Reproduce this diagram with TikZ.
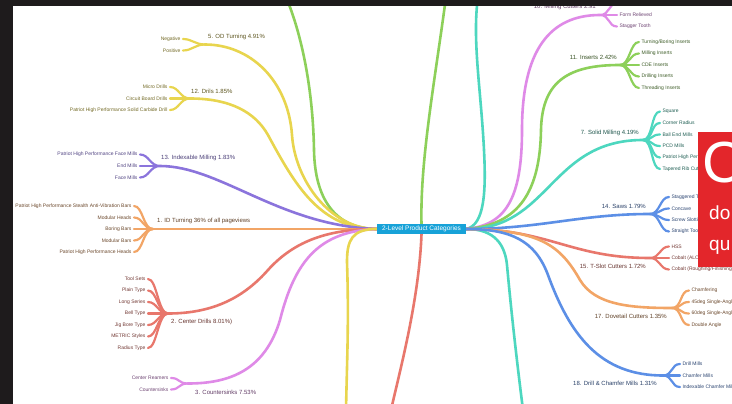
\documentclass[tikz,border=0pt]{standalone}
\usepackage{fontspec}
\setmainfont{Liberation Sans}
\usetikzlibrary{backgrounds}

\definecolor{cyel}{HTML}{E8D54E}
\definecolor{cgrn}{HTML}{8DD05A}
\definecolor{cteal}{HTML}{4DD7BF}
\definecolor{cpur}{HTML}{8B74DC}
\definecolor{corg}{HTML}{F2A566}
\definecolor{cred}{HTML}{E8776C}
\definecolor{cpink}{HTML}{DF8AE7}
\definecolor{cblue}{HTML}{5C8FE6}
\definecolor{chub}{HTML}{17A2D8}
\definecolor{cframe}{HTML}{1E1B1C}
\definecolor{cbox}{HTML}{E3262B}

\tikzset{
  branch/.style={line width=2.6pt, line cap=round},
  twig/.style={line width=2.2pt, line cap=round},
  leaf/.style={font=\fontsize{5}{6}\selectfont, inner sep=2.5pt, outer sep=0pt},
  cat/.style={font=\fontsize{6}{7}\selectfont, inner sep=0pt},
  hub/.style={fill=chub, text=white, font=\fontsize{6.5}{7}\selectfont,
    minimum width=89pt, minimum height=10pt, inner sep=0pt},
}

\begin{document}
\begin{tikzpicture}[x=1pt,y=-1pt]
\useasboundingbox (0,0) rectangle (732,404);

\node[hub] (root) at (421.5,229) {2-Level Product Categories};

% left side
\coordinate (od) at (205,44.5);
\node[cat, anchor=west, text=cyel!40!black] (odl) at (208,37) {5. OD Turning 4.91\%};
\foreach \t [count=\i] in {Negative,Positive}
  \node[leaf, anchor=east, text=cyel!50!black] (od\i) at (183,{39+11.5*(\i-1)}) {\t};

\coordinate (dr) at (190,98.5);
\node[cat, anchor=west, text=cyel!40!black] (drl) at (191,91) {12. Drils 1.85\%};
\foreach \t [count=\i] in {Micro Drills,Circuit Board Drills,Patriot High Performance Solid Carbide Drill}
  \node[leaf, anchor=east, text=cyel!50!black] (dr\i) at (170,{87+11.5*(\i-1)}) {\t};

\coordinate (im) at (160,166);
\node[cat, anchor=west, text=cpur!55!black] (iml) at (161,158) {13. Indexable Milling 1.83\%};
\foreach \t [count=\i] in {Patriot High Performance Face Mills,End Mills,Face Mills}
  \node[leaf, anchor=east, text=cpur!60!black] (im\i) at (140,{154.5+11.5*(\i-1)}) {\t};

\coordinate (id) at (153,229);
\node[cat, anchor=west, text=corg!40!black] (idl) at (157,221) {1. ID Turning 36\% of all pageviews};
\foreach \t [count=\i] in {Patriot High Performance Stealth Anti-Vibration Bars,Modular Heads,Boring Bars,Modular Bars,Patriot High Performance Heads}
  \node[leaf, anchor=east, text=corg!45!black] (id\i) at (134,{206+11.5*(\i-1)}) {\t};

\coordinate (cd) at (168,313.5);
\node[cat, anchor=west, text=cred!45!black] (cdl) at (171,322) {2. Center Drills 8.01\%)};
\foreach \t [count=\i] in {Tool Sets,Plain Type,Long Series,Bell Type,Jig Bore Type,METRIC Styles,Radius Type}
  \node[leaf, anchor=east, text=cred!50!black] (cd\i) at (148,{279+11.5*(\i-1)}) {\t};

\coordinate (cs) at (188,383.5);
\node[cat, anchor=west, text=cpink!45!black] (csl) at (195,392) {3. Countersinks 7.53\%};
\foreach \t [count=\i] in {Center Reamers,Countersinks}
  \node[leaf, anchor=east, text=cpink!50!black] (cs\i) at (171,{378+11.5*(\i-1)}) {\t};

% right side
\coordinate (mc) at (600,15);
\coordinate (mc0) at (617,3.5);
\node[cat, anchor=east, text=cpink!45!black] (mcl) at (596,7) {10. Milling Cutters 2.91};
\foreach \t [count=\i] in {Form Relieved,Stagger Tooth}
  \node[leaf, anchor=west, text=cpink!50!black] (mc\i) at (617,{15+11.5*(\i-1)}) {\t};

\coordinate (in) at (620,65);
\node[cat, anchor=east, text=cgrn!40!black] (inl) at (617,57) {11. Inserts 2.42\%};
\foreach \t [count=\i] in {{Turning/Boring Inserts},Milling Inserts,CDE Inserts,Drilling Inserts,Threading Inserts}
  \node[leaf, anchor=west, text=cgrn!45!black] (in\i) at (639,{42+11.5*(\i-1)}) {\t};

\coordinate (sm) at (643,140);
\node[cat, anchor=east, text=cteal!40!black] (sml) at (639,133) {7. Solid Milling 4.19\%};
\foreach \t [count=\i] in {Square,Corner Radius,Ball End Mills,PCD Mills,Patriot High Performance,Tapered Rib Cutters}
  \node[leaf, anchor=west, text=cteal!45!black] (sm\i) at (660,{111.5+11.5*(\i-1)}) {\t};

\coordinate (sw) at (650,214);
\node[cat, anchor=east, text=cblue!45!black] (swl) at (646,206) {14. Saws 1.79\%};
\foreach \t [count=\i] in {Staggered Tooth,Concave,Screw Slotting,Straight Tooth}
  \node[leaf, anchor=west, text=cblue!50!black] (sw\i) at (669,{197+11.5*(\i-1)}) {\t};

\coordinate (ts) at (650,258);
\node[cat, anchor=east, text=cred!45!black] (tsl) at (646,266) {15. T-Slot Cutters 1.72\%};
\foreach \t [count=\i] in {HSS,Cobalt (ALCrN),{Cobalt (Roughing/Finishing)}}
  \node[leaf, anchor=west, text=cred!50!black] (ts\i) at (669,{246.5+11.5*(\i-1)}) {\t};

\coordinate (dt) at (672,308);
\node[cat, anchor=east, text=corg!40!black] (dtl) at (667,316) {17. Dovetail Cutters 1.35\%};
\foreach \t [count=\i] in {Chamfering,45deg Single-Angle,60deg Single-Angle,Double Angle}
  \node[leaf, anchor=west, text=corg!45!black] (dt\i) at (689,{290.5+11.5*(\i-1)}) {\t};

\coordinate (dc) at (663,375.5);
\node[cat, anchor=east, text=cblue!45!black] (dcl) at (657,383) {18. Drill \& Chamfer Mills 1.31\%};
\foreach \t [count=\i] in {Drill Mills,Chamfer Mills,Indexable Chamfer Mills}
  \node[leaf, anchor=west, text=cblue!50!black] (dc\i) at (680,{364+11.5*(\i-1)}) {\t};

% loose ends
\coordinate (gl) at (286,-3);
\coordinate (yb) at (346,410);
\coordinate (rb) at (391,410);
\coordinate (gt) at (446,-3);
\coordinate (tt) at (478,-3);
\coordinate (tb) at (523,410);

\begin{scope}[on background layer]
\fill[white] (0,0) rectangle (732,404);

\draw[branch, cgrn] (root.west) .. controls (340,229) and (315,205) .. (314,150) .. controls (313,90) and (302,35) .. (gl);
\draw[branch, cyel] (root.west) .. controls (330,229) and (295,180) .. (292,135) .. controls (288,80) and (250,44.5) .. (od);
\draw[branch, cyel] (root.west) .. controls (320,229) and (295,185) .. (268,135) .. controls (255,112) and (230,98.5) .. (dr);
\draw[branch, cpur] (root.west) .. controls (280,226) and (220,166) .. (im);
\draw[branch, corg] (root.west) -- (id);
\draw[branch, cred] (root.west) .. controls (330,229) and (295,240) .. (268,270) .. controls (245,296) and (215,313.5) .. (cd);
\draw[branch, cpink] (root.west) .. controls (320,231) and (295,260) .. (280,320) .. controls (265,370) and (230,383.5) .. (cs);
\draw[branch, cyel] (root.west) .. controls (352,229) and (347,240) .. (347,262) .. controls (349,320) and (347,360) .. (yb);
\draw[branch, cred] (root.south) .. controls (419,300) and (400,370) .. (rb);
\draw[branch, cgrn] (root.north) .. controls (420,160) and (435,80) .. (gt);
\draw[branch, cteal] (root.east) .. controls (485,225) and (486,190) .. (484,150) .. controls (481,90) and (472,40) .. (tt);
\draw[branch, cteal] (root.east) .. controls (495,229) and (505,245) .. (507,265) .. controls (512,320) and (518,370) .. (tb);

\draw[branch, cpink] (root.east) .. controls (505,225) and (522,200) .. (522,130) .. controls (522,50) and (550,15) .. (mc);
\draw[branch, cgrn] (root.east) .. controls (520,225) and (540,190) .. (541,130) .. controls (542,80) and (570,65) .. (in);
\draw[branch, cteal] (root.east) .. controls (550,229) and (550,140) .. (sm);
\draw[branch, cblue] (root.east) .. controls (540,229) and (580,214) .. (sw);
\draw[branch, cred] (root.east) .. controls (550,229) and (570,258) .. (ts);
\draw[branch, corg] (root.east) .. controls (540,230) and (560,245) .. (580,280) .. controls (595,305) and (630,308) .. (dt);
\draw[branch, cblue] (root.east) .. controls (510,229) and (535,240) .. (548,275) .. controls (570,335) and (600,375.5) .. (dc);

% forks
\foreach \i in {1,2} \draw[twig, cyel] (od) .. controls +(-10,0) and +(9,0) .. (od\i.east);
\foreach \i in {1,...,3} \draw[twig, cyel] (dr) .. controls +(-10,0) and +(9,0) .. (dr\i.east);
\foreach \i in {1,...,3} \draw[twig, cpur] (im) .. controls +(-10,0) and +(9,0) .. (im\i.east);
\foreach \i in {1,...,5} \draw[twig, corg] (id) .. controls +(-10,0) and +(9,0) .. (id\i.east);
\foreach \i in {1,...,7} \draw[twig, cred] (cd) .. controls +(-10,0) and +(9,0) .. (cd\i.east);
\foreach \i in {1,2} \draw[twig, cpink] (cs) .. controls +(-10,0) and +(9,0) .. (cs\i.east);

\draw[twig, cpink] (mc) .. controls +(10,0) and +(-9,0) .. (mc0);
\foreach \i in {1,2} \draw[twig, cpink] (mc) .. controls +(10,0) and +(-9,0) .. (mc\i.west);
\foreach \i in {1,...,5} \draw[twig, cgrn] (in) .. controls +(10,0) and +(-9,0) .. (in\i.west);
\foreach \i in {1,...,6} \draw[twig, cteal] (sm) .. controls +(10,0) and +(-9,0) .. (sm\i.west);
\foreach \i in {1,...,4} \draw[twig, cblue] (sw) .. controls +(10,0) and +(-9,0) .. (sw\i.west);
\foreach \i in {1,...,3} \draw[twig, cred] (ts) .. controls +(10,0) and +(-9,0) .. (ts\i.west);
\foreach \i in {1,...,4} \draw[twig, corg] (dt) .. controls +(10,0) and +(-9,0) .. (dt\i.west);
\foreach \i in {1,...,3} \draw[twig, cblue] (dc) .. controls +(10,0) and +(-9,0) .. (dc\i.west);
\end{scope}

% overlay box and frame
\fill[cbox] (698,132) rectangle (732,267);
\node[anchor=west, text=white, font=\fontsize{58}{60}\selectfont, inner sep=0pt] (bc) at (702,163) {C};
\node[anchor=west, text=white, font=\fontsize{19}{20}\selectfont, inner sep=0pt] (bd) at (709,213) {do};
\node[anchor=west, text=white, font=\fontsize{19}{20}\selectfont, inner sep=0pt] (bq) at (709,247) {qu};
\fill[cframe] (0,0) rectangle (732,6);
\fill[cframe] (0,0) rectangle (13,404);

\end{tikzpicture}
\end{document}
